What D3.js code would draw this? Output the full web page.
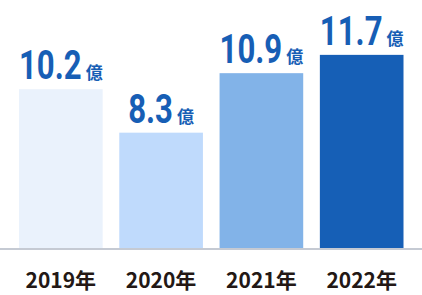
<!DOCTYPE html>
<html>
<head>
<meta charset="utf-8">
<script src="https://cdn.jsdelivr.net/npm/d3@7"></script>
<style>
  html, body { margin: 0; padding: 0; background: #fff; }
  svg { display: block; }
</style>
</head>
<body>
<svg id="chart" width="422" height="295"></svg>
<script>
// chart data
const years = ['2019年', '2020年', '2021年', '2022年'];
const values = [10.2, 8.3, 10.9, 11.7];
const unit = '億';
const barColors = ['#eaf2fc', '#bfdafc', '#82b3e8', '#165fb6'];

const W = 422, H = 295;
const baseY = 248;
const condense = 0.76;

const svg = d3.select('#chart');

const x = d3.scaleBand()
  .domain(years)
  .range([19, 403.5])
  .paddingInner(0.166)
  .paddingOuter(0);

// bars are not drawn from zero in the original artwork
const y = d3.scaleLinear()
  .domain([3.26, 12])
  .range([baseY, 48]);

const rows = years.map((yr, i) => ({ year: yr, value: values[i], color: barColors[i] }));

// bars
svg.append('g')
  .selectAll('rect')
  .data(rows)
  .join('rect')
  .attr('x', d => x(d.year))
  .attr('y', d => y(d.value))
  .attr('width', x.bandwidth())
  .attr('height', d => baseY - y(d.value))
  .attr('fill', d => d.color);

// baseline
svg.append('line')
  .attr('x1', 0)
  .attr('x2', W)
  .attr('y1', baseY + 1)
  .attr('y2', baseY + 1)
  .attr('stroke', '#c5cad3')
  .attr('stroke-width', 2);

// value labels
const labels = svg.append('g')
  .selectAll('g')
  .data(rows)
  .join('g');

labels.each(function (d) {
  const g = d3.select(this);
  const cx = x(d.year) + x.bandwidth() / 2;
  const by = y(d.value) - 10;

  const num = g.append('text')
    .attr('font-family', 'Roboto, "Liberation Sans", sans-serif')
    .attr('font-weight', 700)
    .attr('font-size', 41)
    .attr('fill', '#175eb5')
    .text(d.value.toFixed(1));
  const u = g.append('text')
    .attr('font-family', '"Noto Sans CJK JP", sans-serif')
    .attr('font-weight', 700)
    .attr('font-size', 17)
    .attr('fill', '#175eb5')
    .text(unit);

  const nw = num.node().getComputedTextLength() * condense;
  const uw = u.node().getComputedTextLength();
  const gap = 4;
  const left = cx - (nw + gap + uw) / 2;
  num.attr('transform', `translate(${left},${by}) scale(${condense},1)`);
  u.attr('x', left + nw + gap).attr('y', by);
});

// year labels
svg.append('g')
  .selectAll('text')
  .data(rows)
  .join('text')
  .attr('x', d => x(d.year) + x.bandwidth() / 2)
  .attr('y', 288)
  .attr('text-anchor', 'middle')
  .attr('font-family', '"Noto Sans CJK JP", sans-serif')
  .attr('font-weight', 700)
  .attr('font-size', 21)
  .attr('fill', '#231815')
  .text(d => d.year);
</script>
</body>
</html>
